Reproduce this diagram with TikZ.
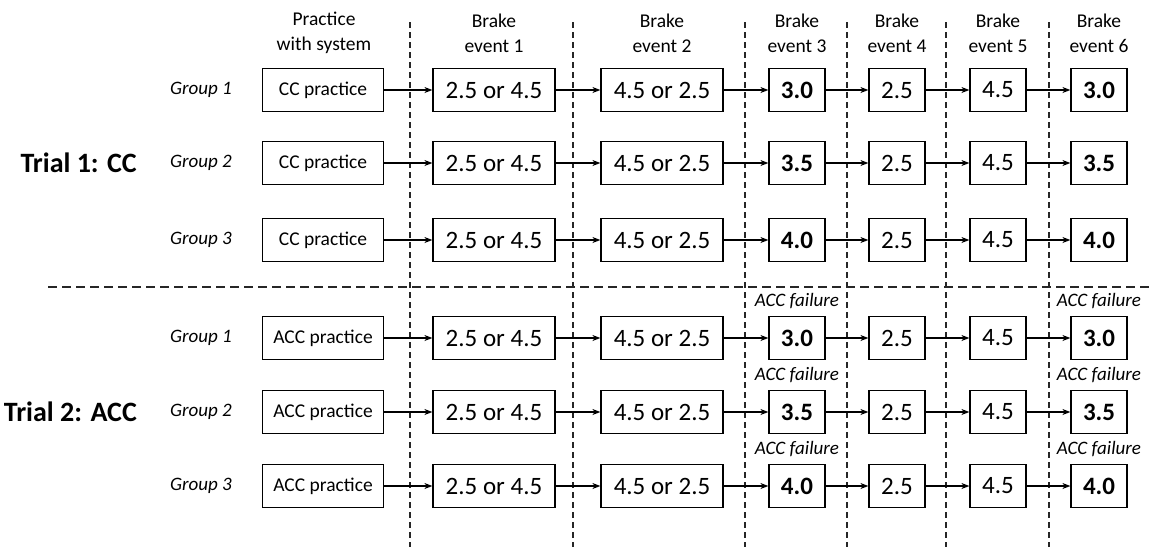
\documentclass[tikz,border=0pt]{standalone}
\usepackage{fontspec}
\setmainfont{Carlito}
\usetikzlibrary{arrows.meta}
\tikzset{
  box/.style={draw=black, line width=1.2pt, minimum height=43pt, inner sep=0pt, fill=white},
  widebox/.style={box, minimum width=122pt, font=\fontsize{25}{30}\selectfont},
  practbox/.style={box, minimum width=121pt, font=\fontsize{19.5}{24}\selectfont},
  smallbox/.style={box, minimum width=56pt, font=\fontsize{25}{30}\selectfont},
  boldbox/.style={smallbox, font=\fontsize{25}{30}\selectfont\bfseries},
  head/.style={align=center, font=\fontsize{19.5}{25}\selectfont, inner sep=0pt},
  grp/.style={font=\fontsize{19}{23}\selectfont\itshape, inner sep=0pt},
  trial/.style={font=\fontsize{28}{32}\selectfont\bfseries, inner sep=0pt, anchor=east},
  fail/.style={font=\fontsize{19}{23}\selectfont\itshape, inner sep=0pt},
  flow/.style={-{Stealth[length=8pt,width=6pt]}, line width=1.8pt},
  divider/.style={black!85, line width=1.1pt, dash pattern=on 6pt off 4pt},
}
\begin{document}
\begin{tikzpicture}[x=1pt,y=-1pt]
\useasboundingbox (0,0) rectangle (1152,547);
\fill[white] (0,0) rectangle (1152,547);

% column separators
\foreach \x in {410,573,745,847,946,1049}
  \draw[divider] (\x,22) -- (\x,547);
% separator between the two trials
\draw[divider, dash pattern=on 9pt off 5pt] (48,287) -- (1152,287);

% column headings
\node[head] (h0) at (324,33) {Practice\\with system};
\node[head] (h1) at (494,33) {Brake\\event 1};
\node[head] (h2) at (662,33) {Brake\\event 2};
\node[head] (h3) at (797,33) {Brake\\event 3};
\node[head] (h4) at (897,33) {Brake\\event 4};
\node[head] (h5) at (998,33) {Brake\\event 5};
\node[head] (h6) at (1099,33) {Brake\\event 6};

% trial labels
\node[trial] (t1) at (137,163) {Trial 1: CC};
\node[trial] (t2) at (137,412) {Trial 2: ACC};

% one row of boxes per group
\foreach \r/\y/\g/\v/\p/\f in {1/90/1/3.0/CC/0, 2/163/2/3.5/CC/0, 3/240/3/4.0/CC/0,
                                 4/338/1/3.0/ACC/1, 5/412/2/3.5/ACC/1, 6/486/3/4.0/ACC/1}{
  \node[grp] (g\r) at (201,\y) {Group \g};
  \node[practbox] (p\r) at (323,\y) {\p{} practice};
  \node[widebox] (a\r) at (494,\y) {2.5 or 4.5};
  \node[widebox] (b\r) at (662,\y) {4.5 or 2.5};
  \node[boldbox] (c\r) at (797,\y) {\v};
  \node[smallbox] (d\r) at (897,\y) {2.5};
  \node[smallbox] (e\r) at (998,\y) {4.5};
  \node[boldbox] (f\r) at (1099,\y) {\v};
  \draw[flow] (p\r) -- (a\r);
  \draw[flow] (a\r) -- (b\r);
  \draw[flow] (b\r) -- (c\r);
  \draw[flow] (c\r) -- (d\r);
  \draw[flow] (d\r) -- (e\r);
  \draw[flow] (e\r) -- (f\r);
  \ifnum\f=1
    \node[fail] (fc\r) at ([yshift=15pt]c\r.north) {ACC failure};
    \node[fail] (ff\r) at ([yshift=15pt]f\r.north) {ACC failure};
  \fi
}
\end{tikzpicture}
\end{document}
